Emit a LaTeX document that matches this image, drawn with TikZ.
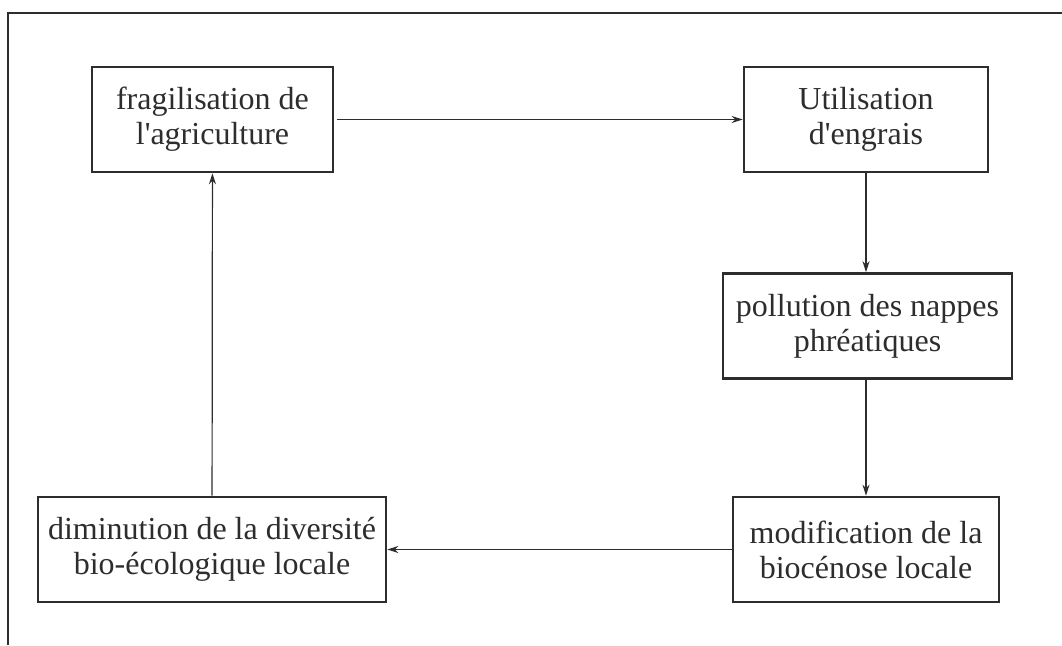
\documentclass[tikz,border=0pt]{standalone}
\usepackage{fontspec}
\setmainfont{Liberation Serif}[Ligatures=TeXOff]
\usepackage{tikz}
\usetikzlibrary{arrows.meta, positioning}
\definecolor{InkGray}{RGB}{45,45,45}

\begin{document}
\begin{tikzpicture}[x=1pt, y=1pt, >={Stealth[length=11pt, width=7pt]}]
      \tikzstyle{box} = [rectangle, draw=InkGray, line width=2.6pt, text=InkGray, minimum height=105pt, align=center, font=\fontsize{32}{35}\selectfont]
      \tikzstyle{link} = [->, draw=InkGray, line width=1.2pt]

      \useasboundingbox (0,0) rectangle (1062,-645);
      % Frame
      \draw[InkGray, line width=2pt] (8,-645) -- (8,-13) -- (1062,-13);

      % Top row
      \node (frag) [box, minimum width=241pt] at (212.5,-119.5) {fragilisation de\\l'agriculture};
      \node (util) [box, minimum width=244pt, right of=frag, node distance=653.5pt] {Utilisation\\d'engrais};
      % Right column
      \node (poll) [box, minimum width=289pt, below of=util, node distance=206.5pt, xshift=1.5pt] {pollution des nappes\\phréatiques};
      \node (modif) [box, minimum width=266pt, below of=util, node distance=430pt] {modification de la\\biocénose locale};
      % Bottom left
      \node (dimin) [box, minimum width=348pt, left of=modif, node distance=654pt] {diminution de la diversité\\bio-écologique locale};

      % Connections
      \draw[link, shorten <=3pt] (frag) -- (util);
      \draw[link] (util) -- (util |- poll.north);
      \draw[link] (util |- poll.south) -- (modif);
      \draw[link] (modif) -- (dimin);
      \draw[link] (dimin) -- (frag);
\end{tikzpicture}
\end{document}
